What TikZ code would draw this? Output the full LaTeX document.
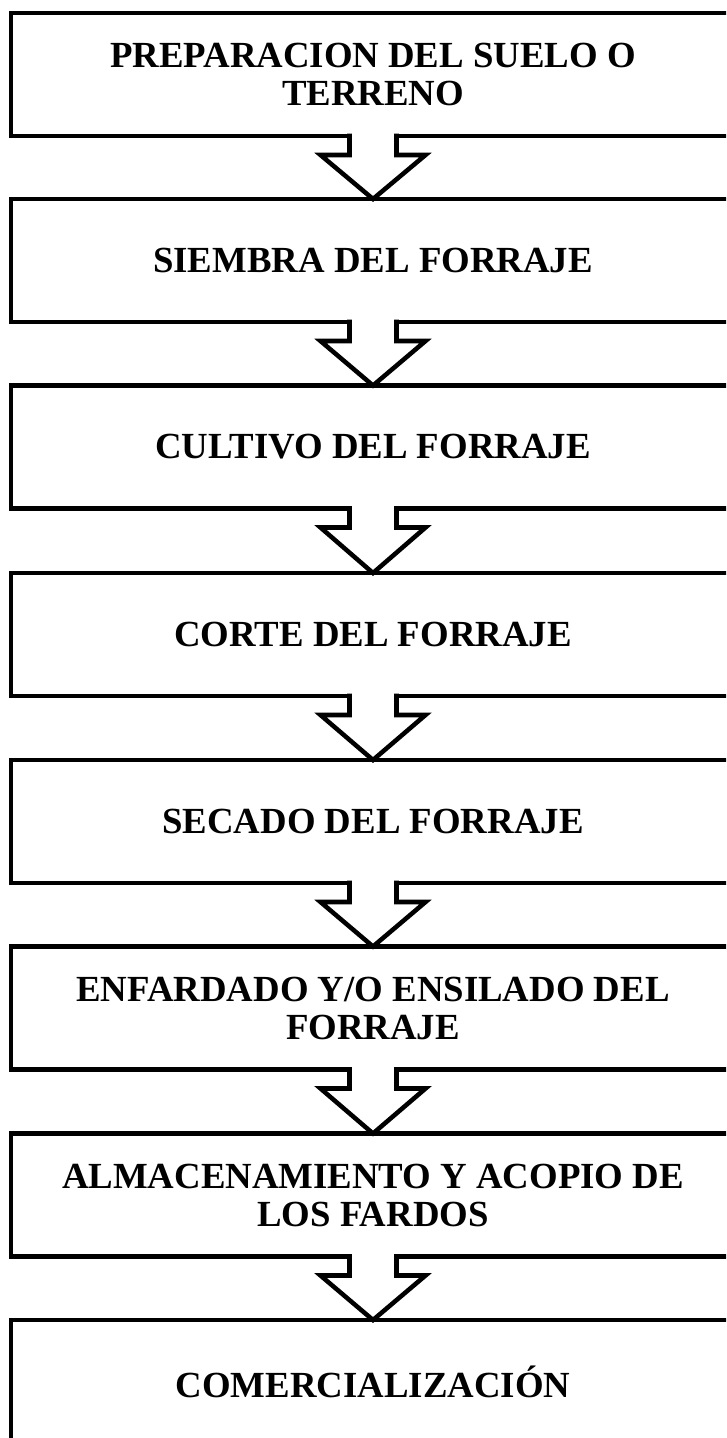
\documentclass[tikz,border=0pt]{standalone}
\usepackage{fontspec}
\setmainfont{Liberation Serif}
\begin{document}
\begin{tikzpicture}[x=0.75pt,y=-0.75pt,
  stepbox/.style={draw=black,line width=3.4pt,outer sep=0pt,inner sep=0pt,
    minimum width=543pt,minimum height=92.25pt,align=center,
    font=\fontsize{27.6pt}{28.5pt}\selectfont\bfseries},
  flowline/.style={draw=black,line width=3.4pt,line join=miter,miter limit=10}]
\useasboundingbox (0,0) rectangle (726,1438);
\clip (0,0) rectangle (726,1438);
\node[stepbox] (b1) at (373,74.5) {PREPARACION DEL SUELO O\\TERRENO};
\node[stepbox] (b2) at (373,260.5) {SIEMBRA DEL FORRAJE};
\node[stepbox] (b3) at (373,447) {CULTIVO DEL FORRAJE};
\node[stepbox] (b4) at (373,634.5) {CORTE DEL FORRAJE};
\node[stepbox] (b5) at (373,821.5) {SECADO DEL FORRAJE};
\node[stepbox] (b6) at (373,1008) {ENFARDADO Y/O ENSILADO DEL\\FORRAJE};
\node[stepbox] (b7) at (373,1195) {ALMACENAMIENTO Y ACOPIO DE\\LOS FARDOS};
\node[stepbox] (b8) at (373,1381.5) {COMERCIALIZACIÓN};
\foreach \a/\b in {b1/b2,b2/b3,b3/b4,b4/b5,b5/b6,b6/b7,b7/b8}{
  \fill[white] ([xshift=-17.625pt,yshift=3pt]\a.south) rectangle ([xshift=17.625pt,yshift=-2pt]\a.south);
  \draw[flowline] ([xshift=-17.625pt,yshift=1.7pt]\a.south) -- ([xshift=-17.625pt,yshift=-14.25pt]\a.south)
    -- ([xshift=-39.375pt,yshift=-14.25pt]\a.south) -- (\b.north)
    -- ([xshift=39.375pt,yshift=-14.25pt]\a.south) -- ([xshift=17.625pt,yshift=-14.25pt]\a.south)
    -- ([xshift=17.625pt,yshift=1.7pt]\a.south);
}
\end{tikzpicture}
\end{document}
